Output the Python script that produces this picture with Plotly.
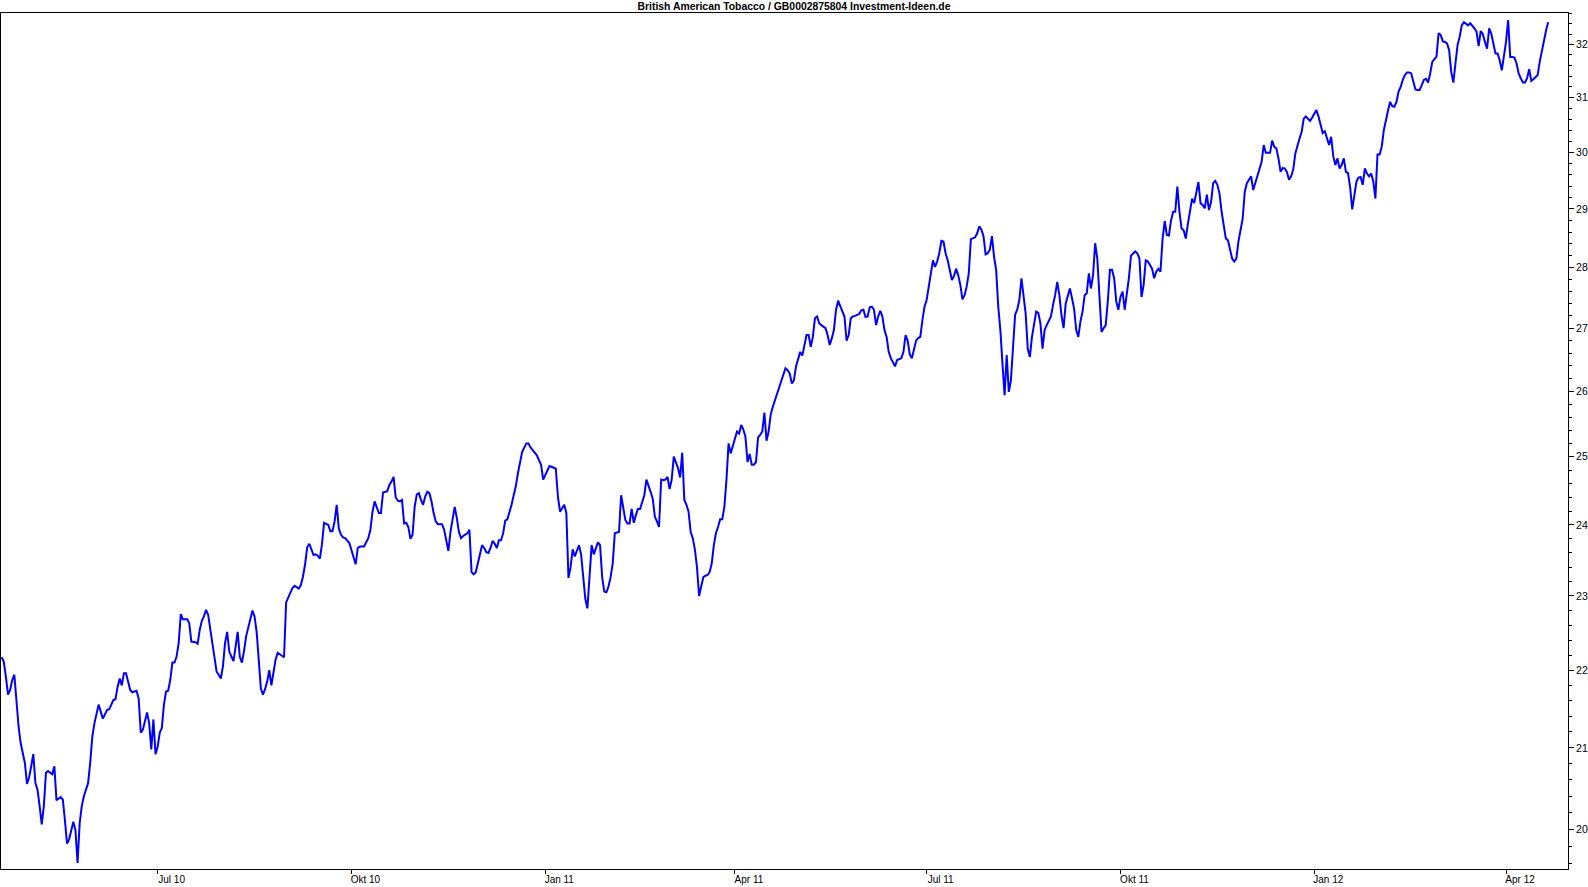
import pandas as pd
import plotly.graph_objects as go

# ---------------- data ----------------
TITLE = "British American Tobacco / GB0002875804 Investment-Ideen.de"
BASE_DATE = "2010-04-18"

# calendar-day offsets from BASE_DATE of each quote
day_offset = [
    0, 1, 2, 3, 4, 5, 6, 7, 8, 9,
    11, 12, 13, 14, 15, 16, 17, 18, 19, 20,
    21, 22, 23, 24, 25, 26, 28, 29, 30, 31,
    32, 33, 34, 35, 36, 37, 38, 39, 41, 42,
    43, 44, 45, 46, 47, 48, 50, 51, 53, 54,
    55, 56, 57, 58, 59, 60, 61, 62, 64, 65,
    66, 67, 68, 69, 70, 71, 72, 73, 74, 75,
    76, 77, 78, 79, 80, 81, 82, 83, 84, 85,
    86, 88, 89, 90, 92, 93, 94, 95, 96, 97,
    98, 99, 100, 102, 103, 104, 105, 106, 107, 108,
    109, 110, 111, 112, 113, 114, 115, 116, 118, 119,
    120, 121, 122, 123, 124, 125, 126, 127, 128, 129,
    130, 131, 132, 134, 135, 136, 137, 138, 139, 141,
    142, 143, 144, 145, 146, 147, 148, 149, 150, 151,
    152, 153, 155, 156, 157, 158, 159, 160, 161, 162,
    163, 165, 166, 167, 168, 169, 170, 172, 173, 174,
    175, 176, 177, 178, 179, 180, 181, 183, 184, 185,
    186, 187, 188, 189, 190, 191, 192, 193, 194, 195,
    196, 197, 198, 199, 200, 201, 202, 203, 204, 205,
    206, 207, 209, 210, 211, 212, 213, 214, 215, 216,
    217, 218, 219, 221, 222, 223, 224, 225, 226, 227,
    228, 229, 230, 231, 232, 233, 234, 235, 236, 237,
    238, 239, 240, 241, 242, 243, 244, 245, 246, 247,
    249, 250, 251, 253, 254, 255, 256, 257, 258, 259,
    260, 261, 263, 264, 265, 266, 267, 268, 269, 270,
    271, 272, 273, 274, 275, 276, 277, 278, 279, 280,
    281, 282, 283, 284, 285, 286, 287, 288, 289, 290,
    291, 292, 293, 294, 295, 296, 297, 298, 299, 300,
    301, 302, 303, 304, 305, 306, 307, 308, 309, 310,
    311, 312, 313, 314, 315, 316, 317, 318, 319, 320,
    321, 322, 323, 324, 325, 326, 327, 328, 329, 330,
    331, 332, 333, 334, 335, 336, 337, 338, 339, 340,
    341, 342, 343, 344, 345, 346, 347, 348, 349, 350,
    351, 352, 353, 354, 355, 356, 357, 358, 359, 360,
    361, 362, 363, 364, 365, 366, 367, 368, 369, 370,
    371, 372, 373, 374, 375, 376, 377, 378, 379, 380,
    381, 382, 383, 384, 385, 386, 387, 388, 389,
    391, 392, 393, 394, 395, 396, 397, 398, 399, 400,
    401, 402, 403, 404, 405, 407, 408, 409, 410, 411,
    412, 413, 414, 415, 416, 417, 418, 419, 420, 421,
    422, 423, 424, 425, 426, 427, 428, 429, 430, 431,
    432, 433, 434, 435, 436, 437, 438, 439, 440, 441,
    442, 443, 444, 445, 446, 447, 448, 449, 450, 451,
    452, 453, 454, 455, 456, 457, 458, 459, 460, 461,
    462, 463, 464, 465, 466, 467, 468, 469, 470, 471,
    472, 473, 474, 475, 476, 477, 478, 479, 480, 481,
    482, 483, 484, 485, 486, 487, 488, 489, 490, 491,
    492, 493, 494, 495, 496, 497, 498, 499, 500, 501,
    502, 503, 504, 505, 506, 507, 508, 509, 510, 511,
    512, 513, 514, 515, 516, 517, 518, 519, 520, 521,
    522, 523, 524, 525, 526, 527, 528, 529, 530, 531,
    532, 533, 534, 535, 536, 537, 538, 539, 540, 541,
    542, 543, 544, 545, 546, 547, 548, 549, 550, 551,
    552, 553, 554, 555, 556, 557, 558, 559, 560, 561,
    562, 563, 564, 565, 566, 567, 568, 569, 570, 571,
    572, 573, 574, 575, 576, 577, 578, 579, 580, 581,
    582, 583, 584, 585, 586, 587, 588, 589, 590, 591,
    592, 593, 594, 595, 596, 597, 598, 599, 600,
    602, 603, 604, 605, 606, 607, 608, 609, 610, 611,
    612, 613, 614, 615, 616, 617, 618, 619, 620, 621,
    622, 623, 624, 625, 626, 627, 628, 629, 630, 631,
    632, 633, 634, 635, 636, 637, 638, 639, 640, 641,
    642, 643, 644, 645, 646, 647, 648, 649, 650, 651,
    652, 653, 654, 655, 656, 657, 658, 659, 660, 661,
    662, 663, 664, 665, 666, 667, 668, 669, 670, 671,
    672, 673, 674, 675, 676, 677, 678, 679, 680, 681,
    682, 683, 684, 685, 686, 687, 688, 689, 690, 691,
    692, 693, 694, 695, 696, 697, 698, 699, 700, 701,
    702, 703, 704, 705, 706, 707, 708, 709, 710, 711,
    712, 713, 714, 715, 716, 717, 718, 719, 720, 721,
    722, 723, 724, 725, 726, 727, 729, 730, 731, 732,
    733, 734,
]

close = [
    22.17, 22.11, 21.91, 21.68, 21.74, 21.87, 21.94, 21.57, 21.27, 21.06,
    20.81, 20.55, 20.63, 20.77, 20.92, 20.56, 20.48, 20.28, 20.06, 20.28,
    20.69, 20.71, 20.69, 20.67, 20.77, 20.35, 20.39, 20.36, 20.11, 19.83,
    19.88, 19.97, 20.09, 19.99, 19.60, 20.07, 20.28, 20.40, 20.56, 20.81,
    21.14, 21.31, 21.44, 21.55, 21.46, 21.37, 21.48, 21.49, 21.61, 21.62,
    21.78, 21.89, 21.80, 21.96, 21.96, 21.83, 21.74, 21.71, 21.73, 21.63,
    21.19, 21.23, 21.33, 21.45, 21.31, 20.98, 21.36, 20.92, 21.01, 21.19,
    21.25, 21.55, 21.72, 21.73, 21.87, 22.10, 22.10, 22.18, 22.36, 22.75,
    22.68, 22.68, 22.63, 22.38, 22.37, 22.35, 22.54, 22.66, 22.72, 22.81,
    22.74, 22.54, 22.40, 21.98, 21.94, 21.89, 22.05, 22.36, 22.51, 22.25,
    22.18, 22.12, 22.31, 22.51, 22.18, 22.10, 22.25, 22.45, 22.68, 22.80,
    22.72, 22.51, 22.14, 21.76, 21.68, 21.75, 21.85, 22.00, 21.80, 22.00,
    22.14, 22.23, 22.21, 22.17, 22.91, 22.97, 23.03, 23.11, 23.14, 23.10,
    23.15, 23.27, 23.44, 23.68, 23.73, 23.65, 23.57, 23.58, 23.56, 23.52,
    23.72, 24.03, 24.00, 23.91, 23.91, 24.05, 24.29, 23.95, 23.86, 23.82,
    23.81, 23.74, 23.65, 23.53, 23.44, 23.67, 23.69, 23.69, 23.74, 23.81,
    23.93, 24.19, 24.34, 24.26, 24.17, 24.17, 24.47, 24.49, 24.58, 24.63,
    24.70, 24.40, 24.35, 24.34, 24.36, 24.02, 24.03, 23.97, 23.80, 23.86,
    24.26, 24.44, 24.46, 24.36, 24.29, 24.41, 24.48, 24.46, 24.34, 24.17,
    24.05, 24.01, 24.01, 23.93, 23.78, 23.63, 23.90, 24.10, 24.26, 24.10,
    23.90, 23.81, 23.84, 23.88, 23.93, 23.33, 23.30, 23.33, 23.48, 23.58,
    23.71, 23.67, 23.61, 23.60, 23.67, 23.77, 23.73, 23.67, 23.78, 23.78,
    23.88, 24.06, 24.08, 24.17, 24.29, 24.43, 24.56, 24.75, 24.90, 25.07,
    25.20, 25.20, 25.14, 25.07, 25.02, 24.95, 24.88, 24.66, 24.72, 24.80,
    24.86, 24.85, 24.82, 24.41, 24.19, 24.24, 24.29, 24.17, 23.25, 23.40,
    23.65, 23.55, 23.62, 23.71, 23.58, 23.22, 22.96, 22.83, 23.32, 23.71,
    23.58, 23.67, 23.75, 23.71, 23.26, 23.06, 23.05, 23.13, 23.26, 23.45,
    23.88, 23.89, 23.90, 24.43, 24.22, 24.07, 24.02, 24.02, 24.23, 24.03,
    24.14, 24.23, 24.23, 24.32, 24.43, 24.66, 24.58, 24.48, 24.38, 24.12,
    24.05, 23.97, 24.66, 24.65, 24.66, 24.70, 24.52, 24.66, 25.00, 24.92,
    24.83, 24.69, 25.06, 24.36, 24.29, 24.19, 23.90, 23.81, 23.65, 23.40,
    23.00, 23.13, 23.26, 23.28, 23.29, 23.33, 23.45, 23.71, 23.88, 23.97,
    24.08, 24.08, 24.26, 24.66, 25.20, 25.05, 25.15, 25.28, 25.38, 25.35,
    25.48, 25.41, 25.30, 24.92, 25.04, 24.88, 24.88, 24.92, 25.29, 25.33,
    25.38, 25.67, 25.24, 25.38, 25.64, 25.76, 25.86, 25.94, 26.04, 26.16,
    26.25, 26.36, 26.33, 26.28, 26.12, 26.17, 26.39, 26.49, 26.62, 26.56,
    26.70, 26.89, 26.89, 26.70, 26.86, 27.16, 27.19, 27.08, 27.05,
    27.00, 26.89, 26.73, 26.84, 26.97, 27.30, 27.45, 27.36, 27.27, 27.19,
    26.80, 26.89, 27.16, 27.19, 27.20, 27.23, 27.29, 27.30, 27.18, 27.19,
    27.34, 27.35, 27.30, 27.05, 27.19, 27.28, 27.19, 26.97, 26.86, 26.62,
    26.52, 26.45, 26.39, 26.49, 26.50, 26.52, 26.62, 26.89, 26.80, 26.58,
    26.52, 26.65, 26.80, 26.84, 26.86, 27.13, 27.35, 27.46, 27.68, 27.90,
    28.12, 28.01, 28.10, 28.24, 28.45, 28.44, 28.24, 28.12, 27.93, 27.79,
    27.86, 27.98, 27.87, 27.71, 27.47, 27.54, 27.68, 27.90, 28.48, 28.49,
    28.51, 28.58, 28.70, 28.64, 28.53, 28.22, 28.24, 28.30, 28.53, 28.18,
    27.96, 27.35, 26.97, 26.43, 25.94, 26.57, 25.99, 26.17, 26.75, 27.22,
    27.30, 27.46, 27.82, 27.49, 27.24, 26.67, 26.54, 26.86, 27.05, 27.27,
    27.25, 27.08, 26.67, 26.97, 27.05, 27.11, 27.19, 27.38, 27.54, 27.76,
    27.54, 27.21, 27.00, 27.40, 27.51, 27.65, 27.49, 27.32, 26.97, 26.86,
    27.11, 27.27, 27.54, 27.57, 27.90, 27.65, 27.87, 28.41, 28.15, 27.60,
    26.94, 27.00, 27.05, 27.44, 27.96, 27.96, 27.82, 27.44, 27.30, 27.51,
    27.60, 27.30, 27.54, 27.82, 28.20, 28.24, 28.27, 28.24, 28.15, 27.51,
    27.71, 28.12, 28.10, 28.04, 27.98, 27.82, 27.93, 27.98, 27.93, 28.49,
    28.79, 28.55, 28.54, 28.80, 28.95, 28.95, 29.39, 28.95, 28.66, 28.63,
    28.49, 28.74, 28.95, 29.18, 29.10, 29.30, 29.47, 29.10, 29.07, 29.01,
    29.25, 28.98, 29.12, 29.45, 29.49, 29.42, 29.27, 28.95, 28.72, 28.49,
    28.46, 28.32, 28.15, 28.10, 28.15, 28.44, 28.66, 28.83, 29.30, 29.45,
    29.51, 29.57, 29.33, 29.45, 29.57, 29.69, 29.83, 30.13, 29.99,
    29.99, 30.21, 30.10, 30.07, 29.89, 29.65, 29.72, 29.71, 29.65, 29.51,
    29.57, 29.69, 29.98, 30.13, 30.25, 30.37, 30.61, 30.65, 30.61, 30.57,
    30.63, 30.71, 30.77, 30.65, 30.52, 30.35, 30.38, 30.25, 30.13, 30.28,
    29.93, 29.77, 29.89, 29.71, 29.77, 29.89, 29.65, 29.63, 29.38, 28.99,
    29.21, 29.48, 29.55, 29.56, 29.42, 29.71, 29.62, 29.57, 29.62, 29.48,
    29.18, 29.96, 29.96, 30.10, 30.40, 30.61, 30.76, 30.92, 30.84, 30.83,
    30.92, 31.11, 31.20, 31.33, 31.42, 31.47, 31.47, 31.45, 31.29, 31.15,
    31.14, 31.14, 31.23, 31.33, 31.35, 31.28, 31.45, 31.67, 31.72, 31.77,
    32.22, 32.18, 32.06, 32.05, 32.02, 31.89, 31.48, 31.28, 31.64, 31.99,
    32.15, 32.37, 32.43, 32.39, 32.37, 32.41, 32.37, 32.31, 32.25, 31.97,
    32.26, 32.20, 32.05, 31.92, 32.31, 32.21, 32.02, 31.83, 31.83, 31.70,
    31.51, 31.76, 32.05, 32.47, 31.76, 31.76, 31.75, 31.64, 31.45, 31.36,
    31.28, 31.28, 31.36, 31.53, 31.31, 31.34, 31.42, 31.67, 31.89, 32.12,
    32.27, 32.43,
]

tick_dates = ["2010-07-01", "2010-10-01", "2011-01-01", "2011-04-01",
              "2011-07-01", "2011-10-01", "2012-01-01", "2012-04-01"]
tick_labels = ["Jul 10", "Okt 10", "Jan 11", "Apr 11",
               "Jul 11", "Okt 11", "Jan 12", "Apr 12"]
price_ticks = [20, 21, 22, 23, 24, 25, 26, 27, 28, 29, 30, 31, 32]
price_labels = [str(v) for v in price_ticks]

# ---------------- figure ----------------
dates = pd.Timestamp(BASE_DATE) + pd.to_timedelta(day_offset, unit="D")

minor_vals = [round(19.6 + 0.2 * i, 1) for i in range(66)]
minor_vals = [v for v in minor_vals if abs(v - round(v)) > 1e-6]

FONT = "Liberation Sans, Arial, Helvetica, sans-serif"

fig = go.Figure(
    go.Scatter(
        x=dates,
        y=close,
        mode="lines",
        line=dict(color="#0000FF", width=2),
        hoverinfo="skip",
    )
)

fig.update_layout(
    width=1588,
    height=887,
    margin=dict(l=1, r=20, t=13, b=18, pad=0),
    paper_bgcolor="white",
    plot_bgcolor="white",
    showlegend=False,
    font=dict(family=FONT, size=10, color="black"),
    title=dict(
        text=TITLE,
        x=0.5,
        xref="container",
        xanchor="center",
        y=1 - 6.5 / 887,
        yref="container",
        yanchor="middle",
        font=dict(family=FONT, size=10.4, color="black", weight="bold"),
    ),
)

fig.update_xaxes(
    type="date",
    range=["2010-04-17 16:00", "2012-04-30 10:00"],
    tickmode="array",
    tickvals=tick_dates,
    ticktext=tick_labels,
    ticks="outside",
    ticklen=4,
    tickwidth=1,
    tickcolor="black",
    ticklabelshift=14,
    ticklabelstandoff=-3,
    tickfont=dict(family=FONT, size=10, color="black"),
    showline=True,
    linecolor="black",
    linewidth=1,
    mirror=True,
    showgrid=False,
    zeroline=False,
    automargin=False,
)

fig.update_yaxes(
    type="log",
    side="right",
    range=[1.29070, 1.51335],
    tickmode="array",
    tickvals=price_ticks,
    ticktext=price_labels,
    ticks="outside",
    ticklen=5,
    tickwidth=1,
    tickcolor="black",
    tickfont=dict(family=FONT, size=10.5, color="black"),
    minor=dict(
        tickmode="array",
        tickvals=minor_vals,
        ticks="outside",
        ticklen=3,
        tickwidth=1,
        tickcolor="black",
        showgrid=False,
    ),
    showline=True,
    linecolor="black",
    linewidth=1,
    mirror=True,
    showgrid=False,
    zeroline=False,
    automargin=False,
)

fig.write_html(
    "out.html",
    config={"displayModeBar": False, "staticPlot": True},
    post_script="document.body.style.margin='0';document.body.style.overflow='hidden';",
)
